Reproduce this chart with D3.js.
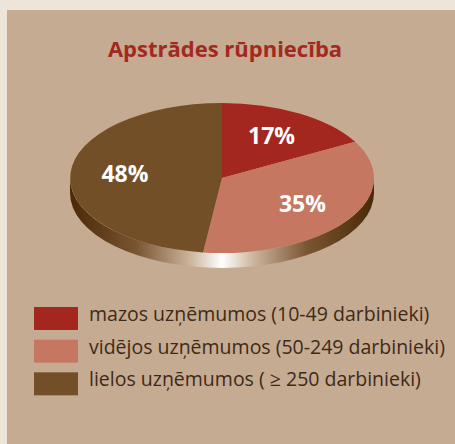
<!DOCTYPE html>
<html>
<head>
<meta charset="utf-8">
<script src="https://cdn.jsdelivr.net/npm/d3@7"></script>
<style>
  body { margin: 0; background: #ede4da; }
  svg { display: block; }
</style>
</head>
<body>
<div id="chart"></div>
<script>
// data
const title = "Apstrādes rūpniecība";
const categories = [
    "mazos uzņēmumos (10-49 darbinieki)",
    "vidējos uzņēmumos (50-249 darbinieki)",
    "lielos uzņēmumos ( ≥ 250 darbinieki)"
];
const shares = [17, 35, 48];
const colors = ["#a4271f", "#c67762", "#734f28"];

const width = 455, height = 444;
const cx = 222, cy = 178, rx = 152, ry = 75, depth = 15;

const svg = d3.select("#chart").append("svg")
    .attr("width", width)
    .attr("height", height);

// panel
svg.append("rect")
    .attr("x", 7).attr("y", 10)
    .attr("width", width - 7).attr("height", height - 10)
    .attr("fill", "#c5ab92");

svg.append("text")
    .attr("x", 225).attr("y", 57)
    .attr("text-anchor", "middle")
    .style("font-family", "'Open Sans', sans-serif")
    .style("font-weight", "bold")
    .style("font-size", "22px")
    .attr("fill", "#a3291f")
    .text(title);

// gradient for the side of the pie
const grad = svg.append("defs").append("linearGradient")
    .attr("id", "side")
    .attr("gradientUnits", "userSpaceOnUse")
    .attr("x1", cx - rx).attr("x2", cx + rx)
    .attr("y1", 0).attr("y2", 0);
[[0, "#4a2906"], [0.22, "#7a5532"], [0.4, "#cdb79f"], [0.5, "#ffffff"], [0.6, "#cdb79f"], [0.78, "#7a5532"], [1, "#4a2906"]]
    .forEach(s => grad.append("stop").attr("offset", s[0]).attr("stop-color", s[1]));

// side band (lower half of the ellipse pushed down)
svg.append("path")
    .attr("d", `M${cx - rx},${cy} L${cx - rx},${cy + depth} A${rx},${ry} 0 0 0 ${cx + rx},${cy + depth} L${cx + rx},${cy} A${rx},${ry} 0 0 1 ${cx - rx},${cy} Z`)
    .attr("fill", "url(#side)");

// top face: unit circle arcs stretched into an ellipse
const pie = d3.pie().sort(null).value(d => d);
const arcs = pie(shares);
const arc = d3.arc().innerRadius(0).outerRadius(1);
const labelArc = d3.arc().innerRadius(0.64).outerRadius(0.64);

const face = svg.append("g")
    .attr("transform", `translate(${cx},${cy}) scale(${rx},${ry})`);
face.selectAll("path")
    .data(arcs)
    .join("path")
    .attr("d", arc)
    .attr("fill", (d, i) => colors[i]);

svg.append("g")
    .selectAll("text")
    .data(arcs)
    .join("text")
    .attr("x", d => cx + labelArc.centroid(d)[0] * rx)
    .attr("y", d => cy + labelArc.centroid(d)[1] * ry)
    .attr("dy", "0.3em")
    .attr("text-anchor", "middle")
    .style("font-family", "'Open Sans', sans-serif")
    .style("font-weight", "bold")
    .style("font-size", "23px")
    .attr("fill", "#ffffff")
    .text(d => d.data + "%");

// legend
const legendY = d3.scaleBand()
    .domain(d3.range(categories.length))
    .range([305, 403]);

const legend = svg.append("g");
legend.selectAll("rect")
    .data(categories)
    .join("rect")
    .attr("x", 34)
    .attr("y", (d, i) => legendY(i) + 2)
    .attr("width", 44)
    .attr("height", 23)
    .attr("fill", (d, i) => colors[i]);

legend.selectAll("text")
    .data(categories)
    .join("text")
    .attr("x", 89)
    .attr("y", (d, i) => legendY(i) + 16)
    .style("font-family", "'Open Sans', sans-serif")
    .style("font-size", "19.5px")
    .attr("fill", "#3e2a16")
    .text(d => d);
</script>
</body>
</html>
